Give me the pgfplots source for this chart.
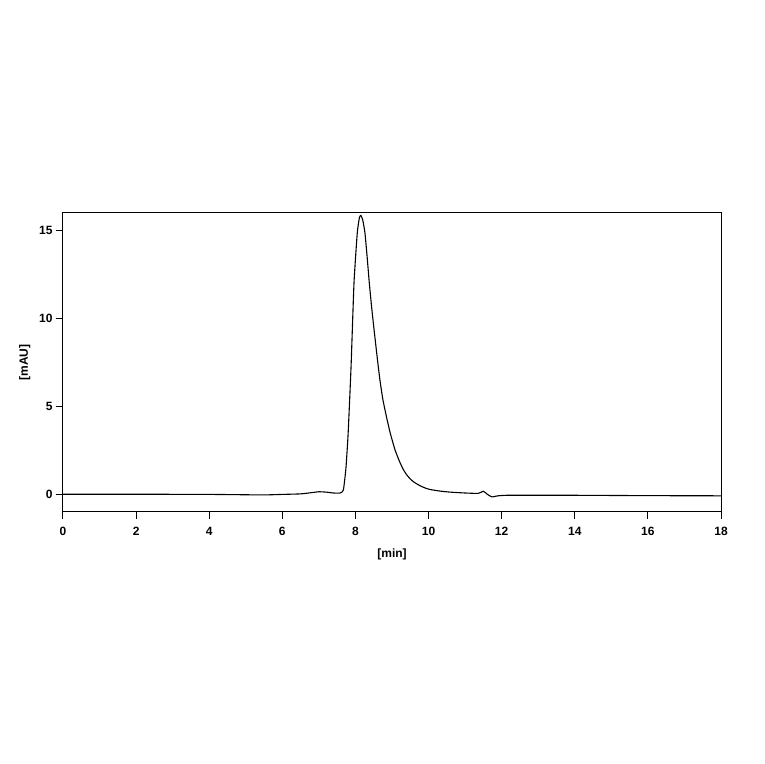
\documentclass[border=0pt]{standalone}
\usepackage{pgfplots}
\pgfplotsset{compat=1.18}
\usepackage{fontspec}
\setmainfont{Liberation Sans}
\begin{document}
\begin{tikzpicture}
\useasboundingbox (0,0) rectangle (764pt,764pt);
\begin{axis}[
    at={(63pt,252pt)}, anchor=south west,
    scale only axis,
    width=658pt, height=299pt,
    xmin=0, xmax=18, ymin=-1, ymax=16,
    xtick={0,2,...,18}, ytick={0,5,10,15},
    xtick pos=bottom, ytick pos=left,
    tick align=outside, major tick length=7pt,
    tick style={black, line width=1pt},
    axis line style={black, line width=1pt},
    ticklabel style={font=\fontsize{12}{14}\selectfont\bfseries},
    xticklabel style={yshift=-5pt},
    /pgf/number format/assume math mode=true,
    xlabel={[min]}, ylabel={[mAU]},
    label style={font=\fontsize{12}{14}\selectfont\bfseries},
    xlabel style={yshift=-6pt},
    ylabel style={yshift=2pt},
]
\addplot[black, line width=1.1pt, smooth, tension=0.3] coordinates {
(0,0.01) (2,0.01) (4,0.0) (5,-0.02) (5.5,-0.03) (6,0.0) (6.5,0.03) (6.8,0.1)
(7.0,0.15) (7.2,0.13) (7.4,0.08) (7.58,0.08) (7.67,0.25) (7.74,1.5) (7.80,3.46)
(7.88,7.26) (7.96,12.0) (8.05,14.87) (8.11,15.75) (8.15,15.86) (8.2,15.6)
(8.26,14.87) (8.32,13.5) (8.38,12.0) (8.45,10.5) (8.52,9.17) (8.6,7.7)
(8.67,6.5) (8.75,5.4) (8.85,4.4) (8.95,3.5) (9.08,2.55) (9.2,1.9) (9.3,1.45)
(9.4,1.12) (9.5,0.88) (9.6,0.7) (9.76,0.5) (9.9,0.37) (10.04,0.28) (10.31,0.19)
(10.59,0.13) (11.0,0.08) (11.36,0.06) (11.5,0.18) (11.6,0.02) (11.73,-0.14)
(11.9,-0.08) (12.13,-0.05) (12.6,-0.05) (14,-0.05) (16,-0.07) (18,-0.08)
};
\end{axis}
\end{tikzpicture}
\end{document}
